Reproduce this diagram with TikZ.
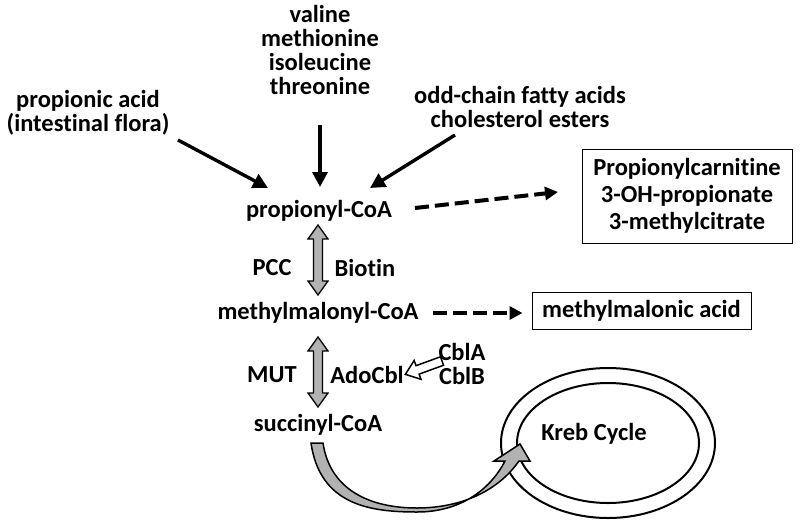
\documentclass[tikz,border=0pt]{standalone}
\usepackage{fontspec}
\setmainfont{Carlito}[Ligatures=NoCommon]
\usetikzlibrary{arrows.meta,positioning}

\begin{document}
\begin{tikzpicture}[x=1pt,y=-1pt,
  font=\fontsize{24.5}{24}\selectfont\bfseries,
  lbl/.style={align=center, inner sep=1pt},
  resbox/.style={draw, line width=1pt, align=center, inner sep=0pt,
    font=\fontsize{24.5}{27}\selectfont\bfseries},
  feed/.style={line width=3.4pt, -{Triangle[length=15pt,width=15pt]}},
  spill/.style={line width=4pt, dash pattern=on 14pt off 6pt,
    -{Triangle[length=13pt,width=13pt]}},
  enzstep/.pic={
    \draw[fill=gray!60, line width=1.3pt] (0,-35) -- (10,-21) -- (4.5,-21)
      -- (4.5,21) -- (10,21) -- (0,35) -- (-10,21) -- (-4.5,21)
      -- (-4.5,-21) -- (-10,-21) -- cycle;},
  cofstep/.pic={
    \draw[fill=white, line width=1.5pt, line join=miter] (0,-4.5) -- (26,-4.5)
      -- (26,-10) -- (39,0) -- (26,10) -- (26,4.5) -- (0,4.5) -- cycle;}]
\useasboundingbox (0,0) rectangle (800,528);

% Place nodes
\node[lbl] (amino) at (320,50) {valine\\methionine\\isoleucine\\threonine};
\node[lbl] (flora) at (88,113) {propionic acid\\(intestinal flora)};
\node[lbl] (lipid) at (520,107) {odd-chain fatty acids\\cholesterol esters};
\node[lbl] (pcoa) at (319,211) {propionyl-CoA};
\node[lbl] (mcoa) at (318,313) {methylmalonyl-CoA};
\node[lbl] (scoa) at (318,425) {succinyl-CoA};
\node[resbox, minimum width=210pt, minimum height=94pt] (metab) at (687,196)
  {Propionylcarnitine\\3-OH-propionate\\3-methylcitrate};
\node[resbox, minimum width=219pt, minimum height=37pt] (mma) at (641.5,311)
  {methylmalonic acid};

% Enzyme steps
\pic at (318,260) {enzstep};
\pic at (318,372) {enzstep};
\node[lbl] (pcc) at (272,268) {PCC};
\node[lbl] (biotin) at (365,268) {Biotin};
\node[lbl] (mut) at (272,375) {MUT};
\node[lbl] (adocbl) at (367,375) {AdoCbl};
\node[lbl] (cbl) at (462,364) {CblA\\CblB};
\pic[rotate=200] at (442,361) {cofstep};

% Kreb cycle ring
\draw[line width=2pt] (608,443) ellipse [x radius=107, y radius=75];
\draw[line width=2pt] (608,443) ellipse [x radius=91, y radius=60];
\node[lbl] (kreb) at (594,434) {Kreb Cycle};

% Inputs
\draw[feed] ([shift={(90,27)}]flora.center) -- ([shift={(-51,-23)}]pcoa.center);
\draw[feed] ([shift={(0,75)}]amino.center) -- ([shift={(1,-24)}]pcoa.center);
\draw[feed] ([shift={(-65,28)}]lipid.center) -- ([shift={(51,-23)}]pcoa.center);

% Side products
\draw[spill] ([shift={(96,-3)}]pcoa.center) -- ([shift={(-129,-4)}]metab.center);
\draw[spill] ([shift={(115,0)}]mcoa.center) -- ([shift={(-119,2)}]mma.center);

% Into the cycle
\draw[fill=gray!60, line width=1.5pt] (311,443)
  .. controls (320,505) and (370,512) .. (417,512)
  .. controls (460,512) and (490,490) .. (505,461)
  -- (494,461) -- (520,444) -- (530,461) -- (519,461)
  .. controls (495,495) and (455,508) .. (417,508)
  .. controls (370,508) and (330,490) .. (323,443) -- cycle;

\end{tikzpicture}
\end{document}
